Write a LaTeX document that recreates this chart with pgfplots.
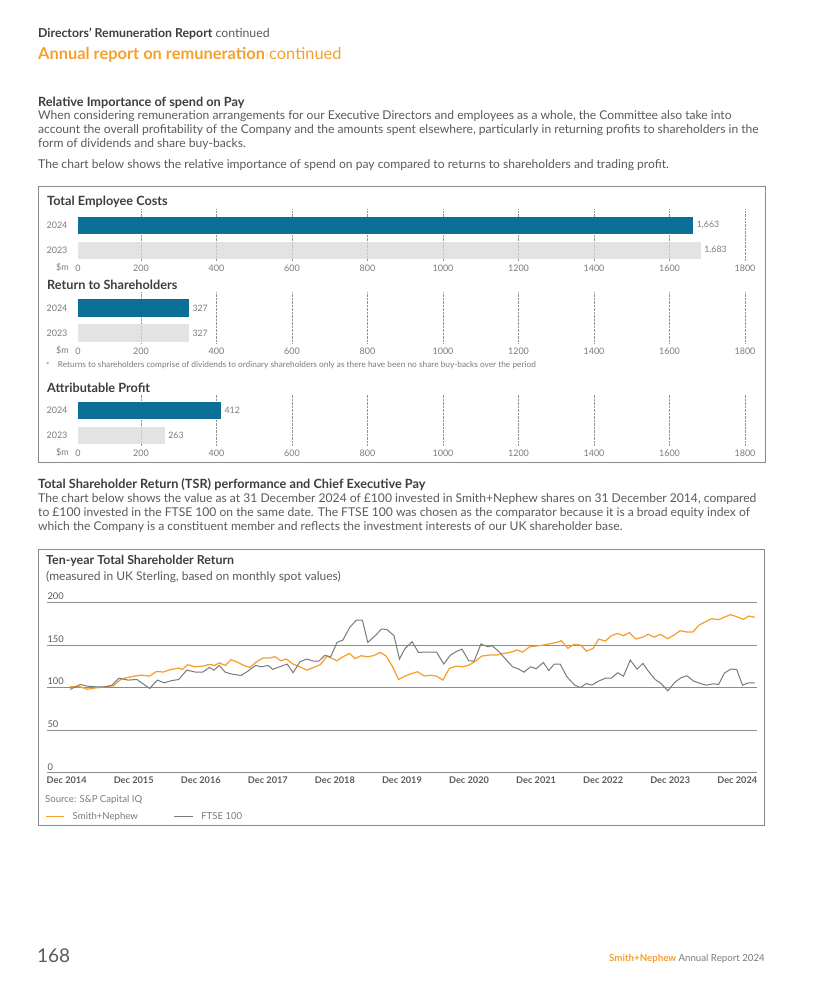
\documentclass[border=0pt]{standalone}
\usepackage{pgfplots}
\pgfplotsset{compat=1.18}
\usepackage{fontspec}
\setmainfont{Lato}
\definecolor{snorange}{HTML}{F5A02E}
\definecolor{snblue}{HTML}{0B6F96}
\definecolor{bargrey}{HTML}{D9D9D9}
\definecolor{headtxt}{HTML}{3D3D3D}
\definecolor{bodytxt}{HTML}{5A5A5A}
\definecolor{lighttxt}{HTML}{7A7A7A}
\definecolor{boxgrey}{HTML}{8A8A8A}
\definecolor{gridgrey}{HTML}{8C8C8C}
\definecolor{ftsegrey}{HTML}{7A7A7A}
\newcommand\fs[1]{\fontsize{#1}{#1}\selectfont}

\pgfplotsset{
  /pgf/number format/assume math mode=true,
  spendbar/.style={
    scale only axis, width=667pt, height=51pt,
    anchor=south west,
    xbar, bar width=17.3pt,
    xmin=33, xmax=1800, ymin=-0.4, ymax=1.64,
    ytick={0,1}, yticklabels={2023,2024},
    xtick={200,400,...,1800},
    extra x ticks={33}, extra x tick labels={0},
    extra x tick style={grid=none},
    axis line style={draw=none},
    major tick length=0pt,
    xmajorgrids,
    grid style={densely dotted, draw=gray!85, line width=0.7pt},
    tick label style={font=\fs{9}, text=lighttxt},
    xticklabel style={/pgf/number format/1000 sep={}, yshift=-1pt},
    yticklabel style={xshift=-7pt},
    nodes near coords={\pgfmathprintnumber[1000 sep={,}]{\pgfplotspointmeta}},
    point meta=x,
    nodes near coords style={anchor=west, font=\fs{8.8}, text=lighttxt, text opacity=1},
  }
}

\begin{document}
\begin{tikzpicture}
\path[use as bounding box] (0pt,0pt) rectangle (825pt,-984pt);

% ---------- page header ----------
\node[anchor=west, inner sep=0pt] at (38pt,-33.3pt) {\fs{12.3}\textcolor{headtxt}{\bfseries Directors’ Remuneration Report} \textcolor{bodytxt}{continued}};
\node[anchor=west, inner sep=0pt, text=snorange] at (38pt,-54.3pt) {\fs{16.4}{\bfseries Annual report on remuneration} continued};

\node[anchor=west, inner sep=0pt, text=headtxt] at (38pt,-102.7pt) {\fs{12.7}\bfseries Relative Importance of spend on Pay};
\begin{scope}[every node/.style={anchor=west, inner sep=0pt, text=bodytxt, font=\fs{12.1}}]
\node at (38pt,-115.8pt) {When considering remuneration arrangements for our Executive Directors and employees as a whole, the Committee also take into};
\node at (38pt,-129.8pt) {account the overall profitability of the Company and the amounts spent elsewhere, particularly in returning profits to shareholders in the};
\node at (38pt,-143.8pt) {form of dividends and share buy-backs.};
\node at (38pt,-165.6pt) {The chart below shows the relative importance of spend on pay compared to returns to shareholders and trading profit.};
\end{scope}

% ---------- box 1 ----------
\draw[boxgrey, line width=1pt] (38pt,-187pt) rectangle (765pt,-462pt);
\begin{scope}[every node/.style={anchor=west, inner sep=0pt, text=headtxt, font=\fs{12.7}\bfseries}]
\node at (47pt,-201.9pt) {Total Employee Costs};
\node at (47pt,-285.2pt) {Return to Shareholders};
\node at (47pt,-387.5pt) {Attributable Profit};
\end{scope}
\begin{scope}[every node/.style={anchor=east, inner sep=0pt, text=lighttxt, font=\fs{9}}]
\node at (69pt,-267.8pt) {\$m};
\node at (69pt,-350.5pt) {\$m};
\node at (69pt,-452.8pt) {\$m};
\end{scope}
\node[anchor=west, inner sep=0pt, text=lighttxt, font=\fs{8.3}] at (46pt,-365.5pt) {*};
\node[anchor=west, inner sep=0pt, text=lighttxt, font=\fs{8.3}] at (57.7pt,-365.5pt) {Returns to shareholders comprise of dividends to ordinary shareholders only as there have been no share buy-backs over the period};

\begin{axis}[spendbar, at={(78pt,-260.3pt)}]
\addplot[fill=bargrey, draw=none, fill opacity=0.75, bar shift=0pt] coordinates {(1683,0)};
\addplot[fill=snblue, draw=none, bar shift=0pt] coordinates {(1663,1)};
\end{axis}
\begin{axis}[spendbar, at={(78pt,-343pt)}]
\addplot[fill=bargrey, draw=none, fill opacity=0.75, bar shift=0pt] coordinates {(327,0)};
\addplot[fill=snblue, draw=none, bar shift=0pt] coordinates {(327,1)};
\end{axis}
\begin{axis}[spendbar, at={(78pt,-445.3pt)}]
\addplot[fill=bargrey, draw=none, fill opacity=0.75, bar shift=0pt] coordinates {(263,0)};
\addplot[fill=snblue, draw=none, bar shift=0pt] coordinates {(412,1)};
\end{axis}

% ---------- TSR text ----------
\node[anchor=west, inner sep=0pt, text=headtxt] at (38pt,-485pt) {\fs{12.7}\bfseries Total Shareholder Return (TSR) performance and Chief Executive Pay};
\begin{scope}[every node/.style={anchor=west, inner sep=0pt, text=bodytxt, font=\fs{12.1}}]
\node at (38pt,-498.6pt) {The chart below shows the value as at 31 December 2024 of £100 invested in Smith+Nephew shares on 31 December 2014, compared};
\node at (38pt,-512.6pt) {to £100 invested in the FTSE 100 on the same date. The FTSE 100 was chosen as the comparator because it is a broad equity index of};
\node at (38pt,-526.6pt) {which the Company is a constituent member and reflects the investment interests of our UK shareholder base.};
\end{scope}

% ---------- box 2 ----------
\draw[boxgrey, line width=1pt] (38pt,-549.5pt) rectangle (764.5pt,-825pt);
\node[anchor=west, inner sep=0pt, text=headtxt, font=\fs{12.4}\bfseries] at (46pt,-560.7pt) {Ten-year Total Shareholder Return};
\node[anchor=west, inner sep=0pt, text=bodytxt, font=\fs{12}] at (46pt,-576.7pt) {(measured in UK Sterling, based on monthly spot values)};
\node[anchor=west, inner sep=0pt, text=lighttxt, font=\fs{9.6}] at (45pt,-799.3pt) {Source: S\&P Capital IQ};

\begin{axis}[
  at={(46.7pt,-772.7pt)}, anchor=south west,
  scale only axis, width=710.3pt, height=170.4pt,
  xmin=-4.08, xmax=120.4, ymin=0, ymax=200,
  axis line style={draw=none},
  major tick length=0pt,
  ytick={0,50,...,200},
  ymajorgrids, grid style={draw=gridgrey, line width=0.8pt},
  yticklabel style={anchor=south west, inner sep=0pt, xshift=0.6pt, yshift=2.3pt, font=\fs{9.3}, text=bodytxt},
  xtick={-0.58,11.17,22.93,34.68,46.43,58.18,69.93,81.69,93.44,105.19,116.94},
  xticklabels={Dec 2014,Dec 2015,Dec 2016,Dec 2017,Dec 2018,Dec 2019,Dec 2020,Dec 2021,Dec 2022,Dec 2023,Dec 2024},
  xticklabel style={font=\fs{9.2}\bfseries, text=bodytxt, inner sep=0pt, yshift=-4.3pt},
  legend columns=2,
  legend style={at={(axis description cs:-0.0024,-0.258)}, anchor=west, draw=none, fill=none, inner sep=0pt, font=\fs{9.6}, text=lighttxt,
    /tikz/every odd column/.append style={column sep=6pt},
    /tikz/every even column/.append style={column sep=34pt}},
  legend image code/.code={\draw[#1] (0pt,0pt) -- (18.3pt,0pt);},
]
\addplot[snorange, line width=1.25pt] coordinates {
(0,100.8) (1.82,100.8) (3.01,98.0) (4.60,99.6) (6.19,100.8) (7.61,102.0) (8.96,109.8) (10.15,111.8) (11.34,113.4) (12.53,114.5) (13.96,113.4) (15.15,118.9) (16.34,118.1) (17.69,121.2) (19.04,122.8) (19.67,121.2) (20.62,126.7) (21.89,124.3) (23.24,125.1) (24.43,127.1) (25.38,125.9) (26.17,129.0) (27.20,125.9) (28.24,132.6) (29.43,129.4) (30.62,125.5) (31.57,123.5) (32.60,129.8) (33.79,134.5) (34.90,134.5) (35.93,136.1) (36.96,131.4) (37.91,133.4) (39.10,127.5) (40.29,124.3) (41.48,120.4) (42.67,123.5) (43.86,126.7) (45.05,136.9) (46.80,131.4) (47.83,136.1) (49.02,140.0) (49.97,133.8) (51.00,137.3) (52.19,136.1) (53.14,137.3) (54.41,141.2) (55.36,137.3) (56.55,124.3) (57.58,109.4) (58.69,113.4) (59.96,116.5) (60.91,118.5) (62.10,113.4) (63.13,114.5) (64.24,113.4) (65.36,108.7) (66.47,122.4) (67.66,125.1) (68.85,124.3) (70.04,126.7) (71.07,131.0) (72.18,136.9) (73.45,138.1) (74.79,138.1) (75.98,140.0) (77.17,141.2) (78.36,143.9) (79.31,141.6) (80.58,147.9) (81.69,148.6) (82.96,149.8) (84.07,151.4) (85.10,152.6) (86.14,154.9) (87.25,145.9) (88.28,150.6) (89.47,149.8) (90.50,142.8) (91.69,145.9) (92.64,156.9) (93.83,154.5) (94.86,160.8) (95.97,163.5) (97.00,160.8) (98.03,164.3) (99.14,156.9) (100.41,159.2) (101.36,162.4) (102.40,159.2) (103.50,162.4) (104.70,157.3) (105.81,161.2) (106.92,166.7) (108.11,165.1) (109.14,165.1) (110.25,173.3) (111.52,177.7) (112.47,180.8) (113.66,179.6) (114.85,183.1) (115.80,185.5) (116.99,182.7) (118.02,180.0) (118.97,183.9) (120,182.4)
};
\addlegendentry{Smith+Nephew}
\addplot[ftsegrey, line width=1pt] coordinates {
(0,97.7) (1.82,103.6) (3.01,101.6) (4.60,100.8) (6.19,100.8) (7.38,102.8) (8.57,111.0) (10.15,108.7) (11.74,109.4) (13.96,98.9) (15.31,108.7) (16.50,105.5) (17.69,107.9) (19.04,109.4) (20.46,120.4) (22.05,118.0) (23.24,118.0) (24.43,123.5) (25.22,120.4) (26.17,125.9) (27.20,118.0) (28.39,115.7) (29.97,114.1) (31.17,119.2) (32.52,125.9) (33.55,124.3) (34.74,125.9) (35.53,121.2) (36.72,124.3) (38.07,127.5) (39.10,117.3) (40.29,130.2) (41.48,133.4) (42.67,131.0) (43.62,131.0) (44.65,137.7) (45.69,136.1) (46.80,153.0) (47.83,155.7) (49.02,170.6) (50.21,179.2) (51.24,179.2) (52.19,153.0) (53.62,161.6) (54.57,168.6) (55.52,168.2) (56.79,160.8) (57.74,133.4) (58.69,145.5) (59.96,153.7) (61.07,141.2) (62.50,141.6) (64.24,141.6) (65.51,127.5) (66.62,137.7) (67.66,142.0) (68.69,145.1) (69.88,131.4) (70.83,131.0) (72.02,151.0) (73.21,147.9) (74.00,149.0) (75.19,142.0) (76.38,133.0) (77.57,124.3) (78.52,122.0) (79.55,118.0) (80.74,124.3) (81.69,122.0) (82.96,129.4) (83.91,120.0) (84.87,127.5) (85.90,127.5) (87.09,112.6) (88.44,102.8) (89.47,100.0) (90.50,104.7) (91.45,102.8) (92.64,107.5) (93.83,111.0) (94.86,111.0) (95.97,117.3) (97.00,113.4) (98.19,132.2) (99.38,121.6) (100.41,128.3) (101.36,119.2) (102.55,109.4) (103.59,104.7) (104.77,96.1) (105.96,105.9) (107.07,111.4) (108.11,113.8) (109.30,107.5) (110.49,104.7) (111.52,102.8) (112.71,104.3) (113.66,103.6) (114.69,116.9) (115.80,121.6) (116.83,121.2) (117.86,102.8) (118.97,105.5) (120,105.5)
};
\addlegendentry{FTSE 100}
\end{axis}

% ---------- footer ----------
\node[anchor=west, inner sep=0pt, text=bodytxt, font=\fs{19}] at (37pt,-956pt) {168};
\node[anchor=east, inner sep=0pt, font=\fs{9.7}] at (765pt,-959pt) {\textcolor{snorange}{\bfseries Smith+Nephew} \textcolor{lighttxt}{Annual Report 2024}};
\end{tikzpicture}
\end{document}
